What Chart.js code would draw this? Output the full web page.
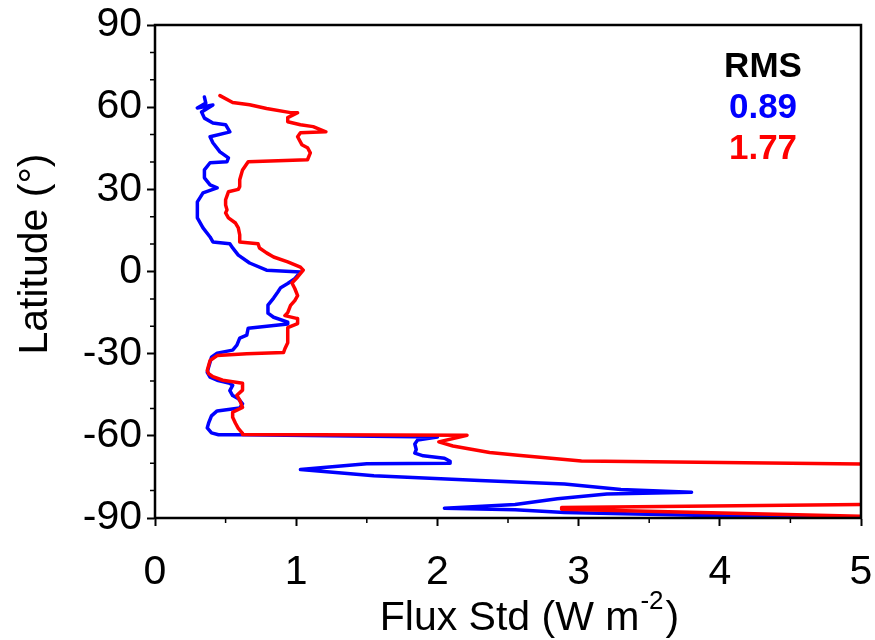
<!DOCTYPE html>
<html>
<head>
<meta charset="utf-8">
<script src="https://cdn.jsdelivr.net/npm/chart.js@4.4.0/dist/chart.umd.min.js"></script>
<style>
  body { margin: 0; background: #fff; }
  #wrap { width: 875px; height: 640px; }
</style>
</head>
<body>
<div id="wrap"><canvas id="myChart" width="875" height="640"></canvas></div>
<script>
// blue curve (flux std vs latitude)
var blueFlux = [0.35, 0.36, 0.30, 0.41, 0.33, 0.35, 0.41, 0.50, 0.53, 0.51, 0.39, 0.41, 0.46, 0.52, 0.51, 0.39, 0.35, 0.35, 0.39, 0.44,
    0.40, 0.34, 0.30, 0.30, 0.30, 0.34, 0.39, 0.41, 0.53, 0.55, 0.59, 0.67, 0.79, 1.03, 0.99, 0.94, 0.89, 0.87, 0.84, 0.80,
    0.80, 0.84, 0.94, 0.94, 0.66, 0.65, 0.60, 0.58, 0.55, 0.44, 0.40, 0.38, 0.37, 0.39, 0.44, 0.53, 0.55, 0.53, 0.55, 0.59,
    0.62, 0.60, 0.44, 0.40, 0.38, 0.37, 0.40, 0.45, 0.62, 2.00, 1.86, 1.84, 1.85, 1.84, 1.90, 2.05, 2.09, 2.09, 1.50, 1.03,
    1.55, 2.30, 2.90, 3.30, 3.80, 3.20, 2.85, 2.55, 2.05, 2.55, 2.90, 4.75];
var blueLat = [63.7, 61.5, 59.7, 60.8, 58.2, 56.0, 54.2, 53.6, 51.0, 50.7, 49.2, 47.0, 43.7, 41.5, 40.1, 39.7, 37.1, 34.2, 31.6, 30.5,
    29.8, 28.7, 25.4, 22.5, 19.6, 15.9, 12.6, 10.8, 10.1, 8.6, 6.0, 3.1, 0.5, -0.2, -2.6, -4.4, -5.9, -7.5, -9.7, -12.3,
    -15.2, -16.7, -18.5, -19.2, -20.7, -23.2, -24.3, -26.9, -28.7, -29.8, -31.3, -34.9, -36.8, -38.6, -39.7, -40.8, -41.6, -43.5, -45.3, -46.4,
    -48.3, -49.8, -50.9, -52.7, -55.3, -57.1, -58.9, -59.6, -59.6, -60.4, -61.5, -63.0, -65.0, -66.3, -67.3, -68.2, -69.3, -70.0, -70.2, -72.3,
    -74.6, -76.3, -77.6, -79.6, -80.6, -81.2, -83.0, -85.1, -86.4, -87.0, -88.0, -90.0];

// red curve, null = leaves the plot on the right (off scale)
var redFlux = [0.46, 0.55, 0.67, 0.79, 0.96, 1.01, 0.94, 0.94, 1.03, 1.12, 1.21, 1.03, 1.01, 1.04, 1.08, 1.10, 1.08, 0.66, 0.62, 0.60,
    0.60, 0.59, 0.52, 0.50, 0.50, 0.51, 0.50, 0.52, 0.57, 0.59, 0.60, 0.60, 0.73, 0.74, 0.79, 0.84, 0.94, 1.03, 1.05, 1.01,
    0.97, 0.99, 1.01, 0.99, 0.96, 0.94, 0.92, 1.01, 1.01, 0.94, 0.94, 0.94, 0.92, 0.91, 0.65, 0.44, 0.39, 0.37, 0.38, 0.41,
    0.48, 0.62, 0.62, 0.58, 0.60, 0.62, 0.55, 0.55, 0.57, 0.59, 0.62, 0.62, 2.21, 2.01, 2.11, 2.24, 2.37, 2.57, 3.02, 5.00,
    null, 5.00, 2.88, 2.88, 5.00];
var redLat = [64.2, 61.7, 60.9, 59.5, 58.0, 58.0, 56.2, 54.7, 53.6, 52.9, 51.0, 50.7, 49.2, 46.3, 45.2, 43.3, 40.8, 40.1, 37.1, 33.5,
    31.0, 30.0, 29.1, 26.2, 24.3, 22.5, 21.4, 19.6, 17.7, 15.9, 13.4, 10.8, 10.1, 8.6, 6.8, 5.3, 3.5, 1.6, 0.5, -2.0,
    -4.2, -6.2, -8.8, -10.6, -12.4, -15.0, -16.1, -17.2, -19.0, -20.5, -22.7, -26.0, -28.2, -29.6, -30.0, -30.7, -32.5, -36.1, -37.3, -38.4,
    -39.7, -40.8, -43.3, -45.2, -47.0, -49.6, -51.4, -53.2, -55.4, -57.3, -59.1, -59.5, -59.8, -62.2, -63.7, -64.9, -66.1, -67.1, -69.2, -70.3,
    null, -85.1, -86.2, -86.8, -89.4];

var xTicks = [0, 1, 2, 3, 4, 5];
var yTicks = [-90, -60, -30, 0, 30, 60, 90];
var rmsLabels = ['RMS', '0.89', '1.77'];

function toPoints(xs, ys) {
    var pts = [];
    for (var i = 0; i < xs.length; i++) {
        pts.push({ x: xs[i], y: ys[i] });
    }
    return pts;
}

var FONT = "'Liberation Sans', Arial, sans-serif";
var FS = 41;

// frame, minor ticks, axis titles and RMS box
var extras = {
    id: 'extras',
    afterDraw: function (chart) {
        var ctx = chart.ctx;
        var a = chart.chartArea;
        var xs = chart.scales.x, ys = chart.scales.y;
        ctx.save();
        ctx.strokeStyle = '#000';
        ctx.lineWidth = 2.5;
        ctx.strokeRect(a.left, a.top, a.right - a.left, a.bottom - a.top);

        ctx.lineWidth = 1.5;
        ctx.beginPath();
        for (var v = -90; v <= 90; v += 10) {
            if (v % 30 === 0) continue;
            var py = ys.getPixelForValue(v);
            ctx.moveTo(a.left - 5, py);
            ctx.lineTo(a.left, py);
        }
        for (var u = 0.5; u < 5; u += 1) {
            var px = xs.getPixelForValue(u);
            ctx.moveTo(px, a.bottom);
            ctx.lineTo(px, a.bottom + 5);
        }
        ctx.stroke();

        // x title with superscript
        ctx.fillStyle = '#000';
        ctx.textBaseline = 'middle';
        var s1 = 'Flux Std (W m', s2 = '-2', s3 = ')';
        ctx.font = FS + 'px ' + FONT;
        var w1 = ctx.measureText(s1).width, w3 = ctx.measureText(s3).width;
        ctx.font = '26px ' + FONT;
        var w2 = ctx.measureText(s2).width;
        var cx = (a.left + a.right) / 2 + 20;
        var x0 = cx - (w1 + w2 + w3) / 2;
        var ty = 619;
        ctx.textAlign = 'left';
        ctx.font = FS + 'px ' + FONT;
        ctx.fillText(s1, x0, ty);
        ctx.font = '26px ' + FONT;
        ctx.fillText(s2, x0 + w1 + 1, ty - 17);
        ctx.font = FS + 'px ' + FONT;
        ctx.fillText(s3, x0 + w1 + w2 + 3, ty);

        // y title
        ctx.save();
        ctx.translate(36, 254);
        ctx.rotate(-Math.PI / 2);
        ctx.textAlign = 'center';
        ctx.fillText('Latitude (\u00b0)', 0, 0);
        ctx.restore();

        // RMS annotation
        ctx.textAlign = 'center';
        ctx.font = 'bold 35px ' + FONT;
        var colors = ['#000', '#0000ff', '#ff0000'];
        for (var k = 0; k < rmsLabels.length; k++) {
            ctx.fillStyle = colors[k];
            ctx.fillText(rmsLabels[k], 763, 67 + k * 41);
        }
        ctx.restore();
    }
};

var ctx = document.getElementById('myChart');

var data = {
    datasets: [{
        label: 'red',
        data: toPoints(redFlux, redLat),
        borderColor: '#ff0000',
        borderWidth: 3.5,
        borderJoinStyle: 'round',
        borderCapStyle: 'round',
        pointRadius: 0,
        showLine: true,
        spanGaps: false,
        tension: 0
    }, {
        label: 'blue',
        data: toPoints(blueFlux, blueLat),
        borderColor: '#0000ff',
        borderWidth: 3.5,
        borderJoinStyle: 'round',
        borderCapStyle: 'round',
        pointRadius: 0,
        showLine: true,
        tension: 0
    }]
};

var option = {
    responsive: false,
    animation: false,
    layout: { padding: { top: 25, right: 14, left: 0, bottom: 0 } },
    plugins: {
        legend: { display: false },
        tooltip: { enabled: false }
    },
    scales: {
        x: {
            type: 'linear',
            min: 0,
            max: 5,
            afterFit: function (scale) {
                scale.height = 122;
                scale.paddingLeft = 0;
                scale.paddingRight = 0;
            },
            afterBuildTicks: function (scale) {
                scale.ticks = xTicks.map(function (v) { return { value: v }; });
            },
            grid: { drawOnChartArea: false, drawTicks: true, tickLength: 8, tickColor: '#000', tickWidth: 2 },
            border: { display: true, color: '#000', width: 2 },
            ticks: { color: '#000', padding: 22, maxRotation: 0, font: { family: FONT, size: FS } }
        },
        y: {
            type: 'linear',
            min: -90,
            max: 90,
            afterFit: function (scale) {
                scale.width = 155;
                scale.paddingTop = 0;
                scale.paddingBottom = 0;
            },
            afterBuildTicks: function (scale) {
                scale.ticks = yTicks.map(function (v) { return { value: v }; });
            },
            grid: { drawOnChartArea: false, drawTicks: true, tickLength: 8, tickColor: '#000', tickWidth: 2 },
            border: { display: true, color: '#000', width: 2 },
            ticks: { color: '#000', padding: 5, font: { family: FONT, size: FS } }
        }
    }
};

var myChart = new Chart(ctx, {
    type: 'scatter',
    data: data,
    options: option,
    plugins: [extras]
});
</script>
</body>
</html>
